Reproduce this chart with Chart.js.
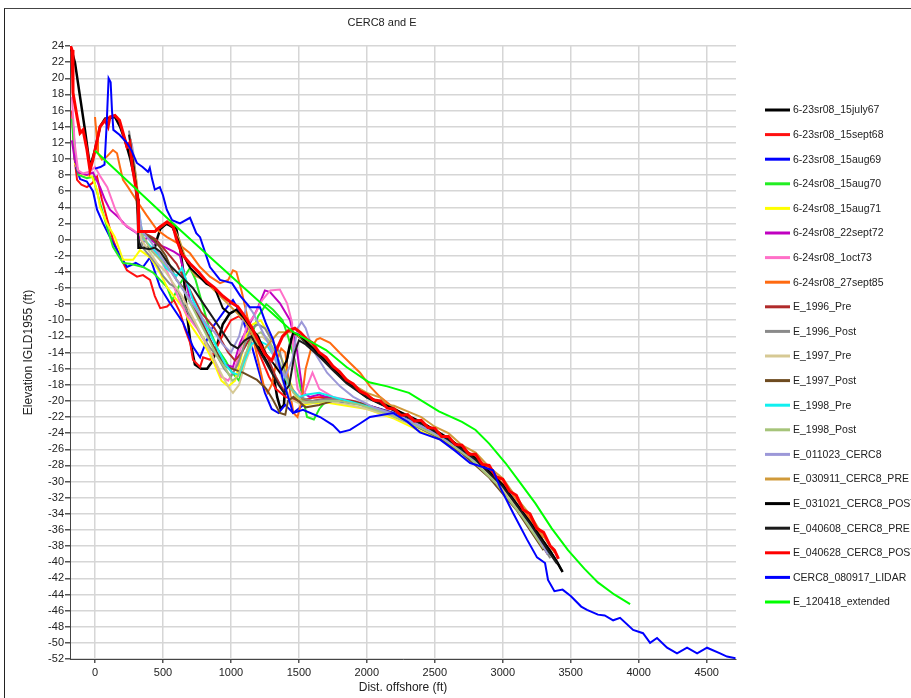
<!DOCTYPE html>
<html>
<head>
<meta charset="utf-8">
<script src="https://cdn.jsdelivr.net/npm/chart.js@4"></script>
<style>
  html, body { margin: 0; padding: 0; background: #fff; overflow: hidden; }
  #frame { position: absolute; left: 4px; top: 8px; width: 907px; height: 690px;
           border-left: 1px solid #222; border-top: 1px solid #444; }
  #profileChart { position: absolute; left: 0; top: 0; }
</style>
</head>
<body>
<div id="frame"><canvas id="profileChart" width="906" height="689"></canvas></div>
<script>
// profile series: [distance offshore (ft), elevation IGLD1955 (ft)]
const july67 = [[-180,24],[-147,21.9],[-110,17.7],[-74,13.6],[-37,9],[0,11.1],[37,14],[74,15],[147,15.2],[184,14],[221,12.3],[260,10],[294,7.4],[316,5],[320,-1],[440,-1],[455,0],[480,1.3],[520,1.9],[567,2],[600,1.2],[625,-1],[650,-4],[675,-9],[700,-12.5],[735,-15.5],[780,-16],[825,-16],[868,-15],[900,-13],[940,-10.5],[990,-9.2],[1040,-8.7],[1090,-9.6],[1150,-11],[1214,-13.7],[1260,-15],[1310,-16.5],[1340,-19.5],[1365,-21],[1390,-20.5],[1410,-15],[1440,-12.5],[1460,-11.6],[1500,-12],[1550,-12.7],[1650,-14.3],[1750,-16],[1850,-17.6],[2000,-19.5],[2200,-21.1],[2400,-22.7],[2600,-24.7],[2800,-27.2],[3000,-30.5],[3200,-35.1],[3350,-38.7],[3400,-40],[3440,-41.2]];
const sept68 = [[-170,16],[-150,10],[-132,7.4],[-100,6.8],[-59,6.5],[-20,7],[15,7.8],[50,5],[90,2.5],[132,0],[180,-2],[235,-3.8],[309,-4.6],[353,-4.4],[405,-5],[440,-7],[480,-8.5],[530,-8.3],[580,-7.5],[625,-9],[660,-11],[700,-12.8],[721,-14.9],[773,-15.8],[795,-14.6],[846,-14.9],[898,-13.3],[950,-11.5],[1000,-10],[1060,-9.5],[1120,-10.5],[1180,-13],[1230,-15],[1280,-17],[1330,-18.5],[1400,-19.5],[1500,-20],[1600,-19.6],[1700,-19.5],[1800,-19.8],[1900,-20.2],[2000,-20.6],[2200,-21.6],[2400,-23],[2600,-24.8],[2800,-27.2],[3000,-30.5],[3200,-35],[3330,-38.5]];
const aug69 = [[-160,14],[-140,9],[-110,7.5],[-60,7.2],[-15,6],[15,3.7],[59,2],[110,0.3],[132,-0.4],[162,-1.3],[235,-3.4],[300,-2.9],[353,-3.4],[405,-2.2],[478,-5.9],[552,-7.9],[648,-10.3],[721,-13.3],[773,-14.6],[824,-12.4],[868,-10.8],[971,-8.4],[1015,-7.5],[1067,-9],[1110,-11],[1150,-13],[1200,-16],[1250,-19],[1300,-21],[1350,-21.5],[1400,-20.5],[1457,-21.5],[1550,-20.3],[1700,-20],[1850,-20.2],[2000,-20.5],[2200,-21.5],[2400,-23],[2600,-24.8],[2800,-27],[3000,-30.5],[3200,-35.2],[3300,-38]];
const aug70 = [[-170,15],[-150,10],[-120,8],[-60,7.6],[-15,7.8],[37,4.5],[88,1.6],[132,-0.9],[206,-2.9],[258,-3],[353,-3.4],[427,-4.1],[530,-5.9],[567,-7.5],[625,-5.5],[699,-3.5],[740,-5],[790,-8],[840,-11],[900,-13.5],[960,-15],[1010,-16.5],[1060,-17.5],[1100,-15],[1150,-12],[1200,-9.5],[1260,-8],[1310,-8.7],[1380,-10],[1420,-12],[1470,-15],[1520,-19],[1560,-22],[1610,-22.3],[1650,-21],[1700,-20],[1800,-19.8],[1900,-20.2],[2000,-20.6],[2200,-21.7],[2400,-23.2],[2600,-25],[2800,-27.4],[3000,-31],[3200,-35.5],[3280,-37.5]];
const aug71 = [[-150,9.5],[-110,8.2],[-22,7.8],[15,6.1],[37,4],[88,2],[147,0.3],[206,-2.5],[280,-2.5],[331,-1.3],[405,-2.2],[478,-4.1],[530,-5.9],[603,-7.5],[650,-8.5],[700,-10.5],[760,-12],[820,-13.5],[880,-15.5],[930,-17.5],[980,-18.2],[1030,-17.5],[1070,-15],[1110,-12],[1160,-10.5],[1220,-10],[1270,-11.5],[1320,-13],[1380,-15],[1430,-17.5],[1480,-19.5],[1540,-20.5],[1600,-20.3],[1700,-20.2],[1850,-20.6],[2000,-21],[2200,-22.2],[2400,-23.8],[2540,-24.8],[2700,-26.3],[2900,-29],[3100,-33],[3250,-37]];
const sept72 = [[-170,12.3],[-150,10],[-120,8.3],[-60,8],[-15,8.3],[37,6.5],[74,4.9],[110,3.7],[170,2.8],[235,1.6],[309,0.8],[353,-0.4],[383,0.3],[450,-0.5],[520,-1],[580,-1.5],[625,-2],[660,-4.5],[699,-7.5],[773,-9.6],[846,-12.4],[898,-14.1],[960,-15.5],[1015,-15.8],[1067,-12.8],[1126,-10.8],[1192,-8.7],[1250,-6.3],[1288,-6.5],[1361,-7.9],[1435,-10],[1486,-13.7],[1508,-16.5],[1530,-19],[1580,-19.5],[1650,-19.2],[1750,-19.8],[1900,-20.2],[2100,-21.2],[2300,-22.6],[2500,-24.2],[2700,-26.3],[2900,-29],[3100,-33],[3250,-36.8]];
const oct73 = [[-170,17.7],[-150,12],[-125,8.6],[-90,8.2],[-40,8.4],[0,9],[40,7.8],[90,6.5],[150,3.7],[205,2],[280,1.2],[350,0.3],[420,-1.2],[500,-3],[560,-5],[620,-7.5],[680,-9.5],[750,-11],[820,-13],[880,-15],[930,-17],[980,-17.5],[1030,-16],[1080,-13],[1120,-10.5],[1170,-9.5],[1230,-7.5],[1290,-6.3],[1360,-6.2],[1413,-7.9],[1450,-10.3],[1460,-14],[1475,-16.5],[1490,-18.5],[1530,-19.5],[1600,-16.5],[1650,-18.5],[1750,-19.5],[1900,-20],[2000,-20.5],[2200,-21.7],[2400,-23.2],[2600,-24.8],[2800,-27],[3000,-30.5],[3200,-35],[3300,-37.5]];
const sept85 = [[0,15.2],[15,12.3],[22,10.7],[51,9.9],[88,10.3],[132,11.1],[162,10.7],[184,9],[206,7.4],[243,6.5],[300,5],[380,3],[456,1.2],[530,0.3],[603,-0.4],[699,-1.7],[773,-3.4],[846,-4.6],[920,-5.4],[980,-5],[1015,-3.8],[1040,-4],[1080,-6.5],[1120,-9.5],[1160,-12],[1200,-15],[1240,-18],[1270,-19],[1300,-18],[1330,-15.5],[1370,-13.5],[1400,-14],[1420,-17],[1440,-19.5],[1460,-21.5],[1490,-22],[1520,-20],[1550,-16],[1590,-13.5],[1630,-12.4],[1656,-12.2],[1729,-12.8],[1803,-14.1],[1876,-15.3],[1950,-16.5],[2023,-18.2],[2097,-19.5],[2193,-20.8],[2300,-22],[2500,-23.6],[2700,-25.8],[2900,-28.3],[3100,-32.2],[3300,-37]];
const e1996Pre = [[260,12.5],[295,8],[318,4],[330,1],[400,0.5],[450,0],[500,-1],[550,-2],[600,-3],[660,-5],[720,-7],[780,-9],[830,-10],[880,-11],[930,-12.5],[980,-14],[1030,-15],[1080,-14],[1130,-12.5],[1180,-12],[1230,-13],[1280,-15],[1330,-17],[1380,-18.5],[1430,-19.5],[1500,-20],[1600,-20],[1700,-19.7],[1800,-19.8],[1900,-20],[2000,-20.5],[2200,-21.6],[2400,-23.1],[2600,-24.9],[2800,-27.3],[3000,-30.6],[3200,-35.3],[3330,-39]];
const e1996Post = [[250,13.5],[280,10],[310,6],[330,2],[350,-1],[400,-2],[450,-3],[500,-4.5],[550,-5.5],[600,-6],[650,-8],[700,-9.5],[740,-10.5],[790,-12],[850,-13.5],[900,-14.5],[950,-16],[1000,-17],[1050,-15.5],[1100,-13],[1150,-11],[1200,-10.5],[1250,-11],[1300,-12.5],[1360,-14],[1400,-16.5],[1450,-18.5],[1500,-19.5],[1600,-20],[1700,-19.8],[1800,-19.8],[1900,-20.2],[2000,-20.6],[2200,-21.6],[2400,-23.2],[2600,-24.9],[2800,-27.4],[3000,-30.8],[3200,-35.5],[3350,-39.5]];
const e1997Pre = [[270,12],[300,7],[320,3],[340,0],[400,-1.5],[460,-3],[520,-4],[580,-5.5],[640,-7],[700,-9],[760,-11],[820,-13],[880,-15],[940,-17],[990,-18.5],[1015,-19],[1060,-18],[1110,-15],[1170,-12.5],[1230,-12],[1290,-13],[1340,-15.5],[1390,-18],[1440,-19.8],[1500,-20.3],[1600,-20.2],[1700,-20],[1850,-20.4],[2000,-21],[2200,-22],[2400,-23.5],[2600,-25.2],[2800,-27.6],[3000,-31],[3200,-35.5],[3300,-38.5]];
const e1997Post = [[260,11],[290,8],[310,4],[330,1],[380,0.5],[430,0],[480,-1],[520,-2],[560,-3.5],[600,-5],[650,-6],[700,-7.8],[760,-9.5],[820,-11.5],[880,-13.5],[930,-15],[971,-15.8],[1089,-16.5],[1192,-17.4],[1260,-18.5],[1310,-19.9],[1360,-21.5],[1400,-21.7],[1420,-20],[1460,-19.5],[1550,-20.8],[1650,-20.5],[1750,-20],[1850,-20],[1950,-20.3],[2100,-21.2],[2300,-22.6],[2500,-24.3],[2700,-26.5],[2900,-29.5],[3100,-33.5],[3300,-38.5]];
const e1998Pre = [[290,9],[315,5],[335,2],[360,0],[420,-1],[470,-2],[520,-3.5],[560,-4],[600,-4.5],[640,-3.5],[680,-5.5],[720,-7.5],[780,-9.5],[840,-11.5],[900,-13.5],[960,-15.5],[1010,-16.5],[1060,-16.8],[1100,-15],[1150,-13],[1200,-12.5],[1260,-13],[1320,-14.5],[1380,-16.5],[1440,-18.5],[1500,-19.5],[1560,-19.2],[1650,-19],[1750,-19.5],[1900,-20.2],[2050,-20.9],[2250,-22],[2450,-23.5],[2650,-25.5],[2850,-28],[3050,-31.5],[3250,-36.5],[3350,-39]];
const e1998Post = [[280,11],[305,6],[325,2.5],[350,0.5],[420,-1.5],[480,-2.5],[540,-3.5],[600,-5],[660,-6.5],[720,-8.5],[780,-10.5],[840,-12.5],[900,-14.5],[960,-16],[1010,-17.5],[1050,-17],[1100,-14.5],[1160,-12],[1220,-11.5],[1280,-12.5],[1340,-14.5],[1400,-17],[1460,-19],[1520,-20],[1600,-20.2],[1700,-20],[1800,-20],[1950,-20.5],[2150,-21.6],[2350,-23],[2550,-24.6],[2750,-27],[2950,-30.2],[3150,-34.5],[3300,-38.3]];
const e011023 = [[270,12],[300,8],[320,4],[345,1],[400,0],[460,-1.5],[520,-3],[580,-4.5],[640,-6],[700,-7.5],[760,-9],[820,-10.5],[880,-11.5],[940,-13],[1000,-14],[1060,-12],[1118,-8],[1160,-9],[1220,-11],[1280,-13],[1340,-15.5],[1400,-17],[1450,-15],[1490,-11],[1520,-10.2],[1550,-11],[1604,-13.7],[1707,-16.5],[1803,-18.2],[1900,-19.5],[2050,-20.8],[2250,-22],[2450,-23.5],[2650,-25.5],[2850,-28],[3050,-31.5],[3250,-36.5],[3330,-39]];
const e030911Pre = [[260,12],[300,8],[320,5],[325,1],[440,1],[520,2],[570,1.8],[620,0],[680,-3],[740,-4.5],[800,-5],[860,-6],[920,-7],[980,-8],[1040,-9],[1100,-10],[1150,-11.5],[1200,-13],[1250,-13.5],[1300,-12.5],[1350,-11.5],[1400,-11.5],[1450,-11.5],[1500,-12],[1600,-13.2],[1700,-14.8],[1800,-16.5],[1900,-18],[2000,-19],[2100,-19.6],[2150,-20.5],[2200,-20.6],[2300,-21.3],[2400,-22],[2500,-23.2],[2600,-24],[2700,-25.5],[2800,-26.4],[2900,-28.2],[3000,-29.6],[3100,-32],[3200,-34.1],[3300,-36.8],[3380,-38.8]];
const e031021Post = [[255,12],[290,8],[318,5],[322,1],[440,1],[470,1.5],[520,2],[570,1.5],[610,0],[650,-2],[700,-3.5],[760,-4.5],[820,-5.5],[880,-6],[940,-8.5],[990,-9.2],[1040,-8.7],[1090,-9.6],[1150,-11],[1200,-12],[1250,-14],[1310,-15.3],[1361,-16.5],[1410,-15],[1457,-11.6],[1500,-11.8],[1550,-12.6],[1650,-14.2],[1750,-16],[1850,-17.6],[2000,-19.4],[2200,-21],[2400,-22.6],[2600,-24.6],[2800,-27.1],[3000,-30.4],[3200,-35],[3350,-38.6],[3400,-40],[3440,-41.2]];
const e040608Pre = [[250,13],[285,9],[310,5],[318,0],[340,-1],[400,-1.2],[440,-1],[480,-1.5],[540,-3],[600,-4],[660,-5],[720,-6],[780,-7.5],[840,-9],[900,-10.5],[960,-12],[1000,-13],[1050,-13.5],[1100,-12.5],[1150,-12],[1200,-13.5],[1250,-15],[1300,-16.5],[1350,-18],[1390,-19],[1430,-18],[1470,-14],[1500,-12.5],[1550,-13],[1650,-14.5],[1750,-16.2],[1850,-17.8],[2000,-19.6],[2200,-21.2],[2400,-22.8],[2600,-24.8],[2800,-27.3],[3000,-30.6],[3200,-35.2],[3350,-39],[3400,-40.2]];
const e040628Post = [[-180,24],[-169,23.5],[-162,18.2],[-132,15.2],[-110,13.2],[-88,13.6],[-59,11.1],[-37,8.6],[-15,9.9],[0,11.1],[37,14],[74,14.8],[96,14],[110,15.2],[147,15.4],[180,14.8],[210,13],[235,11.5],[255,12],[275,9],[300,6.5],[318,4.8],[320,1],[440,1],[480,1.6],[530,2.2],[575,1.6],[600,0],[640,-1.8],[700,-3],[760,-4],[820,-5.2],[880,-6],[940,-7],[1000,-7.8],[1050,-8.3],[1100,-9.5],[1150,-10.8],[1200,-12.5],[1250,-14.2],[1300,-15],[1340,-13.5],[1380,-12],[1420,-11.3],[1470,-11],[1510,-11.5],[1560,-12.4],[1600,-12.8],[1650,-14],[1700,-14.6],[1750,-15.7],[1800,-16.4],[1850,-17.4],[1900,-17.9],[1950,-18.8],[2000,-19.2],[2050,-19.9],[2100,-20],[2150,-20.9],[2200,-21],[2250,-21.8],[2300,-21.7],[2350,-22.5],[2400,-22.4],[2450,-23.3],[2500,-23.4],[2550,-24.4],[2600,-24.4],[2650,-25.4],[2700,-25.5],[2750,-26.6],[2800,-26.6],[2850,-27.9],[2900,-28],[2950,-29.4],[3000,-29.7],[3050,-31.2],[3100,-31.7],[3150,-33.5],[3200,-34],[3250,-35.8],[3300,-36.3],[3350,-38],[3380,-38.5],[3410,-39.6]];
const lidar080917 = [[0,8.8],[40,9],[70,9.3],[85,14],[95,18],[100,20],[115,19.5],[125,16],[135,13.6],[180,13],[235,12],[270,11],[308,9.5],[350,9],[390,8.4],[403,8.9],[420,7.5],[440,6.2],[477,6.5],[500,5.5],[528,3.7],[567,2.4],[625,2],[699,2.7],[745,0.8],[773,0.3],[846,-3.4],[920,-5],[1008,-5.4],[1070,-7],[1140,-8.4],[1214,-8.4],[1260,-10.5],[1310,-12.4],[1383,-17.4],[1457,-21.5],[1530,-21.1],[1656,-22],[1750,-23],[1803,-23.9],[1876,-23.6],[1950,-22.8],[2023,-22],[2193,-21.5],[2300,-22.6],[2391,-23.9],[2539,-24.8],[2650,-26.2],[2760,-27.7],[2929,-28.6],[2980,-30.7],[3076,-33.9],[3179,-37.2],[3252,-39.4],[3311,-40.1],[3333,-42.2],[3380,-43.6],[3440,-43.4],[3500,-44.2],[3577,-45.5],[3620,-45.9],[3700,-46.5],[3750,-46.6],[3812,-47.2],[3863,-46.9],[3959,-48.4],[4032,-48.8],[4084,-50],[4135,-49.4],[4209,-50.6],[4282,-51.3],[4356,-50.6],[4430,-51.3],[4503,-50.6],[4599,-51.3],[4650,-51.7],[4712,-51.9]];
const e120418Ext = [[0,11],[300,6.3],[600,1.6],[900,-3],[1210,-7.7],[1452,-11.4],[1700,-13.7],[1850,-15.8],[2016,-17.7],[2150,-18.2],[2310,-19],[2530,-21.3],[2700,-22.6],[2800,-23.6],[2900,-25.3],[3020,-27.7],[3130,-30.2],[3240,-32.7],[3360,-35.8],[3480,-38.5],[3600,-40.8],[3700,-42.5],[3820,-44],[3937,-45.2]];

const seriesNames = ['6-23sr08_15july67', '6-23sr08_15sept68', '6-23sr08_15aug69', '6-24sr08_15aug70',
  '6-24sr08_15aug71', '6-24sr08_22sept72', '6-24sr08_1oct73', '6-24sr08_27sept85',
  'E_1996_Pre', 'E_1996_Post', 'E_1997_Pre', 'E_1997_Post', 'E_1998_Pre', 'E_1998_Post',
  'E_011023_CERC8', 'E_030911_CERC8_PRE', 'E_031021_CERC8_POST', 'E_040608_CERC8_PRE',
  'E_040628_CERC8_POST', 'CERC8_080917_LIDAR', 'E_120418_extended'];
const seriesData = [july67, sept68, aug69, aug70, aug71, sept72, oct73, sept85,
  e1996Pre, e1996Post, e1997Pre, e1997Post, e1998Pre, e1998Post,
  e011023, e030911Pre, e031021Post, e040608Pre, e040628Post, lidar080917, e120418Ext];
const xTicks = [0, 500, 1000, 1500, 2000, 2500, 3000, 3500, 4000, 4500];

const seriesColors = ['#000000', '#ff1010', '#0000ff', '#22ee22', '#ffff00', '#c000c0', '#ff70c8', '#ff6a10',
  '#b02a2a', '#8a8a8a', '#d6c994', '#6e4b20', '#10f0f0', '#a6c47a', '#9c98d8', '#d09a3a',
  '#000000', '#1a1a1a', '#ff0000', '#0000ff', '#00ff00'];
const seriesWidths = [2.5, 2, 2, 2, 2, 2, 2, 2, 2, 2, 2, 2, 2, 2, 2, 2, 2, 2, 3, 2, 2];

const uiFont = 'Liberation Sans, Arial, sans-serif';

// title and right-hand legend painted straight onto the canvas
const sideLegend = {
  id: 'sideLegend',
  afterDraw(chart) {
    const ctx = chart.ctx;
    ctx.save();
    ctx.fillStyle = '#222';
    ctx.font = '11px ' + uiFont;
    ctx.textAlign = 'center';
    ctx.textBaseline = 'middle';
    ctx.fillText('CERC8 and E', 377, 14);

    ctx.font = '10.5px ' + uiFont;
    ctx.textAlign = 'left';
    chart.data.datasets.forEach((ds, i) => {
      const y = 101 + i * 24.6;
      ctx.strokeStyle = ds.borderColor;
      ctx.lineWidth = 3;
      ctx.beginPath();
      ctx.moveTo(760, y);
      ctx.lineTo(785, y);
      ctx.stroke();
      ctx.fillStyle = '#222';
      ctx.fillText(ds.label, 788, y + 0.5);
    });
    ctx.restore();
  }
};

const datasets = seriesData.map((pts, i) => ({
  label: seriesNames[i],
  data: pts.map(p => ({ x: p[0], y: p[1] })),
  borderColor: seriesColors[i],
  backgroundColor: seriesColors[i],
  borderWidth: seriesWidths[i],
  pointRadius: 0,
  tension: 0,
  fill: false,
  order: seriesData.length - i
}));

new Chart(document.getElementById('profileChart'), {
  type: 'line',
  data: { datasets: datasets },
  options: {
    responsive: false,
    animation: false,
    devicePixelRatio: 1,
    layout: { padding: { top: 37, right: 175, left: 0, bottom: 0 } },
    plugins: {
      legend: { display: false },
      title: { display: false },
      tooltip: { enabled: false }
    },
    scales: {
      x: {
        type: 'linear',
        min: -184,
        max: 4716,
        afterBuildTicks: (scale) => { scale.ticks = xTicks.map(v => ({ value: v })); },
        afterFit: (scale) => { scale.height = 39; },
        grid: { color: '#d6d6d6', lineWidth: 1.5, tickLength: 4, tickColor: '#555' },
        border: { color: '#444', width: 1 },
        ticks: { color: '#222', font: { family: uiFont, size: 11 }, padding: 3, maxRotation: 0,
                 autoSkip: false, callback: (v) => String(v) },
        title: { display: true, text: 'Dist. offshore (ft)', color: '#222',
                 font: { family: uiFont, size: 12 }, padding: { top: 0, bottom: 3 } }
      },
      y: {
        type: 'linear',
        min: -52,
        max: 24,
        afterFit: (scale) => { scale.width = 65; },
        grid: { color: '#d6d6d6', lineWidth: 1.5, tickLength: 5, tickColor: '#555' },
        border: { color: '#444', width: 1 },
        ticks: { stepSize: 2, color: '#222', font: { family: uiFont, size: 11 }, padding: 1,
                 autoSkip: false, callback: (v) => String(v) },
        title: { display: true, text: 'Elevation IGLD1955 (ft)', color: '#222',
                 font: { family: uiFont, size: 12 }, padding: { top: 16, bottom: 0 } }
      }
    }
  },
  plugins: [sideLegend]
});
</script>
</body>
</html>
